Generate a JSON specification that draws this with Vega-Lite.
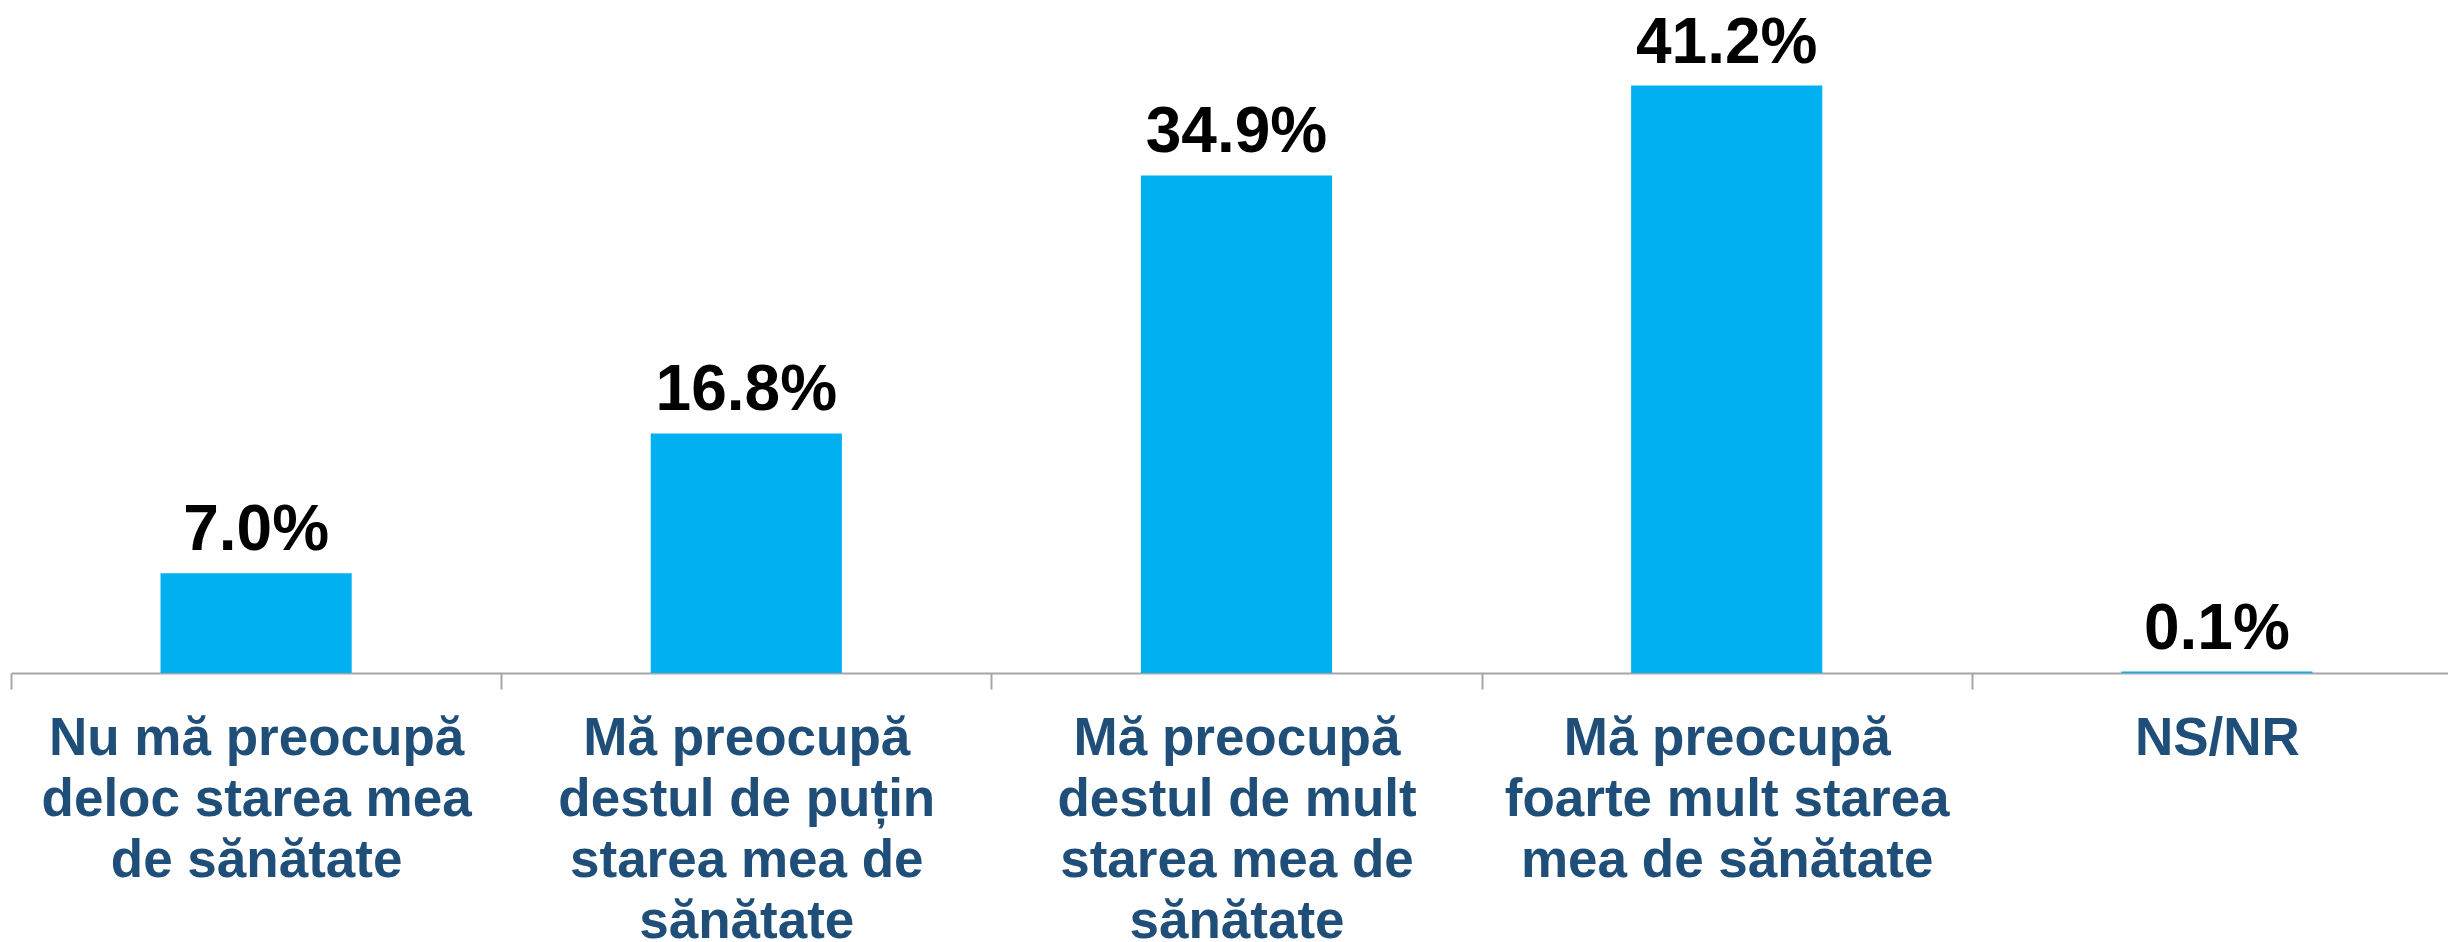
{
  "$schema": "https://vega.github.io/schema/vega-lite/v6.json",
  "width": 2437,
  "height": 673,
  "autosize": {"type": "none"},
  "padding": {"left": 11, "top": 0, "right": 0, "bottom": 269},
  "background": "white",
  "config": {"view": {"stroke": null}},
  "data": {
    "values": [
      {"cat": "Nu mă preocupă|deloc starea mea|de sănătate", "pct": 7.0, "label": "7.0%"},
      {"cat": "Mă preocupă|destul de puțin|starea mea de|sănătate", "pct": 16.8, "label": "16.8%"},
      {"cat": "Mă preocupă|destul de mult|starea mea de|sănătate", "pct": 34.9, "label": "34.9%"},
      {"cat": "Mă preocupă|foarte mult starea|mea de sănătate", "pct": 41.2, "label": "41.2%"},
      {"cat": "NS/NR", "pct": 0.1, "label": "0.1%"}
    ]
  },
  "encoding": {
    "x": {
      "field": "cat",
      "type": "nominal",
      "sort": null,
      "scale": {"range": [0, 2451], "paddingInner": 0.61, "paddingOuter": 0.305},
      "axis": {
        "title": null,
        "labelAngle": 0,
        "labelExpr": "split(datum.label, '|')",
        "labelFont": "Liberation Sans",
        "labelFontSize": 53,
        "labelFontWeight": "bold",
        "labelColor": "#1F4E79",
        "labelLineHeight": 61,
        "labelPadding": 23,
        "labelLimit": 1000,
        "labelOverlap": false,
        "labelBound": false,
        "tickSize": 16,
        "tickOffset": -245.1,
        "labelOffset": 245.1,
        "tickColor": "#A6A6A6",
        "tickWidth": 2,
        "domainColor": "#A6A6A6",
        "domainWidth": 2
      }
    },
    "y": {
      "field": "pct",
      "type": "quantitative",
      "scale": {"domain": [0, 47.2]},
      "axis": null
    }
  },
  "layer": [
    {"mark": {"type": "bar", "color": "#00B0F0"}},
    {
      "mark": {
        "type": "text",
        "baseline": "alphabetic",
        "dy": -23,
        "font": "Liberation Sans",
        "fontSize": 64,
        "fontWeight": "bold",
        "color": "#000000"
      },
      "encoding": {"text": {"field": "label", "type": "nominal"}}
    }
  ]
}
